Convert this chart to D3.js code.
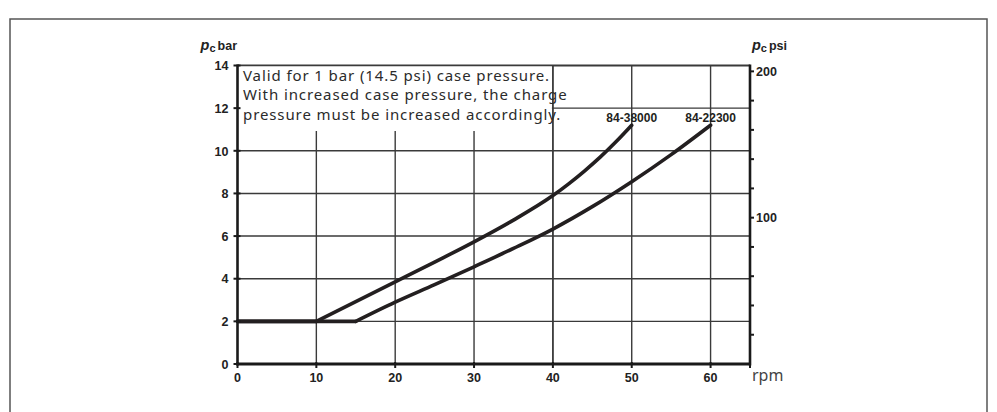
<!DOCTYPE html>
<html><head><meta charset="utf-8">
<script src="https://cdn.jsdelivr.net/npm/d3@7"></script>
<style>
html,body{margin:0;padding:0;background:#fff;}
svg{display:block;}
</style></head>
<body>
<svg id="chart" width="997" height="412"></svg>
<script>
// ---- data ----
const rpmTicks = [0, 10, 20, 30, 40, 50, 60];
const barTicks = [0, 2, 4, 6, 8, 10, 12, 14];
const psiTicks = [20, 40, 60, 80, 100, 120, 140, 160, 180, 200];
const psiLabels = [100, 200];
const seriesNames = ["84-38000", "84-22300"];
// flat part (constant charge pressure) then rising part
const rpm38000 = [0, 10, 20, 25, 30, 35, 40, 42, 44, 46, 48, 50];
const bar38000 = [2, 2, 3.85, 4.78, 5.73, 6.75, 7.9, 8.45, 9.05, 9.7, 10.42, 11.2];
const rpm22300 = [0, 15, 20, 25, 30, 35, 40, 45, 50, 55, 60];
const bar22300 = [2, 2, 2.9, 3.72, 4.56, 5.42, 6.33, 7.38, 8.55, 9.82, 11.2];
const noteLines = [
  "Valid for 1 bar (14.5 psi) case pressure.",
  "With increased case pressure, the charge",
  "pressure must be increased accordingly."
];

const svg = d3.select("#chart");
const x = d3.scaleLinear().domain([0, 65]).range([237.5, 750]);
const y = d3.scaleLinear().domain([0, 14]).range([364, 65.5]);
const yPsi = d3.scaleLinear().domain([0, 204]).range([364, 65.5]);

// outer frame
svg.append("rect").attr("x", 10).attr("y", 19).attr("width", 977).attr("height", 420)
  .attr("fill", "none").attr("stroke", "#555").attr("stroke-width", 1.5);

const gridColor = "#3a3a3a";
const boxBottom = 131;
// horizontal grid
svg.append("g").selectAll("line").data(barTicks.filter(d => d > 0)).join("line")
  .attr("x1", x(0)).attr("x2", x(65)).attr("y1", d => y(d)).attr("y2", d => y(d))
  .attr("stroke", gridColor).attr("stroke-width", d => d === 14 ? 2 : 1.4);
// vertical grid
svg.append("g").selectAll("line").data(rpmTicks.filter(d => d > 0)).join("line")
  .attr("x1", d => x(d)).attr("x2", d => x(d))
  .attr("y1", d => d < 40 ? boxBottom : y(14)).attr("y2", y(0))
  .attr("stroke", gridColor).attr("stroke-width", 1.4);

// note box (white, covers grid)
svg.append("rect").attr("x", x(0) + 1).attr("y", y(14) + 1)
  .attr("width", x(40) - x(0) - 2).attr("height", boxBottom - y(14) - 1).attr("fill", "#fff");
svg.append("line").attr("x1", x(40)).attr("x2", x(40)).attr("y1", y(14)).attr("y2", y(0))
  .attr("stroke", gridColor).attr("stroke-width", 1.4);

noteLines.forEach((t, i) => {
  svg.append("text").attr("font-family", "'Noto Sans', sans-serif")
    .attr("font-size", 15).attr("letter-spacing", 0.9).attr("fill", "#2b2b2b")
    .attr("x", 243).attr("y", 80.5 + i * 19.6).text(t);
});

// curves: flat segment straight, rising part smooth
const flat = d3.line().x(d => x(d[0])).y(d => y(d[1]));
const smooth = d3.line().x(d => x(d[0])).y(d => y(d[1])).curve(d3.curveMonotoneX);
const s1 = rpm38000.map((r, i) => [r, bar38000[i]]);
const s2 = rpm22300.map((r, i) => [r, bar22300[i]]);
[s2, s1].forEach(s => {
  const k = s.findIndex((d, i) => i > 0 && d[1] > s[0][1]) - 1;
  svg.append("path").attr("d", flat(s.slice(0, k + 1))).attr("fill", "none")
    .attr("stroke", "#231f20").attr("stroke-width", 3.6).attr("stroke-linecap", "round");
  svg.append("path").attr("d", smooth(s.slice(k))).attr("fill", "none")
    .attr("stroke", "#231f20").attr("stroke-width", 3.6).attr("stroke-linecap", "round");
});
// curve labels
[[s1, seriesNames[0]], [s2, seriesNames[1]]].forEach(([s, name]) => {
  const last = s[s.length - 1];
  svg.append("text").attr("x", x(last[0])).attr("y", y(last[1]) - 3.5)
    .attr("text-anchor", "middle").attr("font-family", "'Liberation Sans', Arial, sans-serif")
    .attr("font-weight", "bold").attr("font-size", 12).attr("fill", "#231f20").text(name);
});

// axes
const axisColor = "#1a1a1a";
svg.append("line").attr("x1", x(0)).attr("x2", x(0)).attr("y1", y(14) - 1).attr("y2", y(0) + 1.5)
  .attr("stroke", axisColor).attr("stroke-width", 2.6);
svg.append("line").attr("x1", x(0) - 1).attr("x2", x(65) + 1).attr("y1", y(0)).attr("y2", y(0))
  .attr("stroke", axisColor).attr("stroke-width", 2.8);
svg.append("line").attr("x1", x(65)).attr("x2", x(65)).attr("y1", y(14) - 1).attr("y2", y(0) + 1.5)
  .attr("stroke", axisColor).attr("stroke-width", 2.6);

const tickFont = "'Liberation Sans', Arial, sans-serif";
const tickSize = 12.5;
// left ticks
const gl = svg.append("g");
gl.selectAll("line").data(barTicks).join("line")
  .attr("x1", x(0) - 4).attr("x2", x(0) + 3).attr("y1", d => y(d)).attr("y2", d => y(d))
  .attr("stroke", axisColor).attr("stroke-width", 2);
gl.selectAll("text").data(barTicks).join("text")
  .attr("x", x(0) - 9).attr("y", d => y(d)).attr("dy", "0.38em").attr("text-anchor", "end")
  .attr("font-family", tickFont).attr("font-weight", "bold").attr("font-size", tickSize)
  .attr("fill", "#222").text(d => d);
// bottom ticks
const gb = svg.append("g");
gb.selectAll("line").data(rpmTicks.concat([65])).join("line")
  .attr("x1", d => x(d)).attr("x2", d => x(d)).attr("y1", y(0) - 2).attr("y2", y(0) + 4)
  .attr("stroke", axisColor).attr("stroke-width", 2);
gb.selectAll("text").data(rpmTicks).join("text")
  .attr("x", d => x(d)).attr("y", 382).attr("text-anchor", "middle")
  .attr("font-family", tickFont).attr("font-weight", "bold").attr("font-size", tickSize)
  .attr("fill", "#222").text(d => d);
svg.append("text").attr("x", 752).attr("y", 381).attr("font-family", "'Noto Sans', sans-serif")
  .attr("font-size", 16).attr("fill", "#444").text("rpm");
// right ticks
const gr = svg.append("g");
gr.selectAll("line").data(psiTicks).join("line")
  .attr("x1", x(65)).attr("x2", x(65) + 4).attr("y1", d => yPsi(d)).attr("y2", d => yPsi(d))
  .attr("stroke", axisColor).attr("stroke-width", 2);
gr.selectAll("text").data(psiLabels).join("text")
  .attr("x", x(65) + 6).attr("y", d => yPsi(d)).attr("dy", "0.38em")
  .attr("font-family", tickFont).attr("font-weight", "bold").attr("font-size", tickSize)
  .attr("fill", "#222").text(d => d);

// axis titles
function title(xPos, anchor, unit) {
  const t = svg.append("text").attr("x", xPos).attr("y", 50).attr("text-anchor", anchor)
    .attr("font-family", tickFont).attr("font-weight", "bold").attr("fill", "#222");
  t.append("tspan").attr("font-style", "italic").attr("font-size", 14.5).text("p");
  t.append("tspan").attr("font-size", 11).attr("dy", 2).text("c");
  t.append("tspan").attr("font-size", 12.5).attr("dy", -2).attr("dx", 2).text(unit);
}
title(237, "end", "bar");
title(752, "start", "psi");
</script>
</body></html>
